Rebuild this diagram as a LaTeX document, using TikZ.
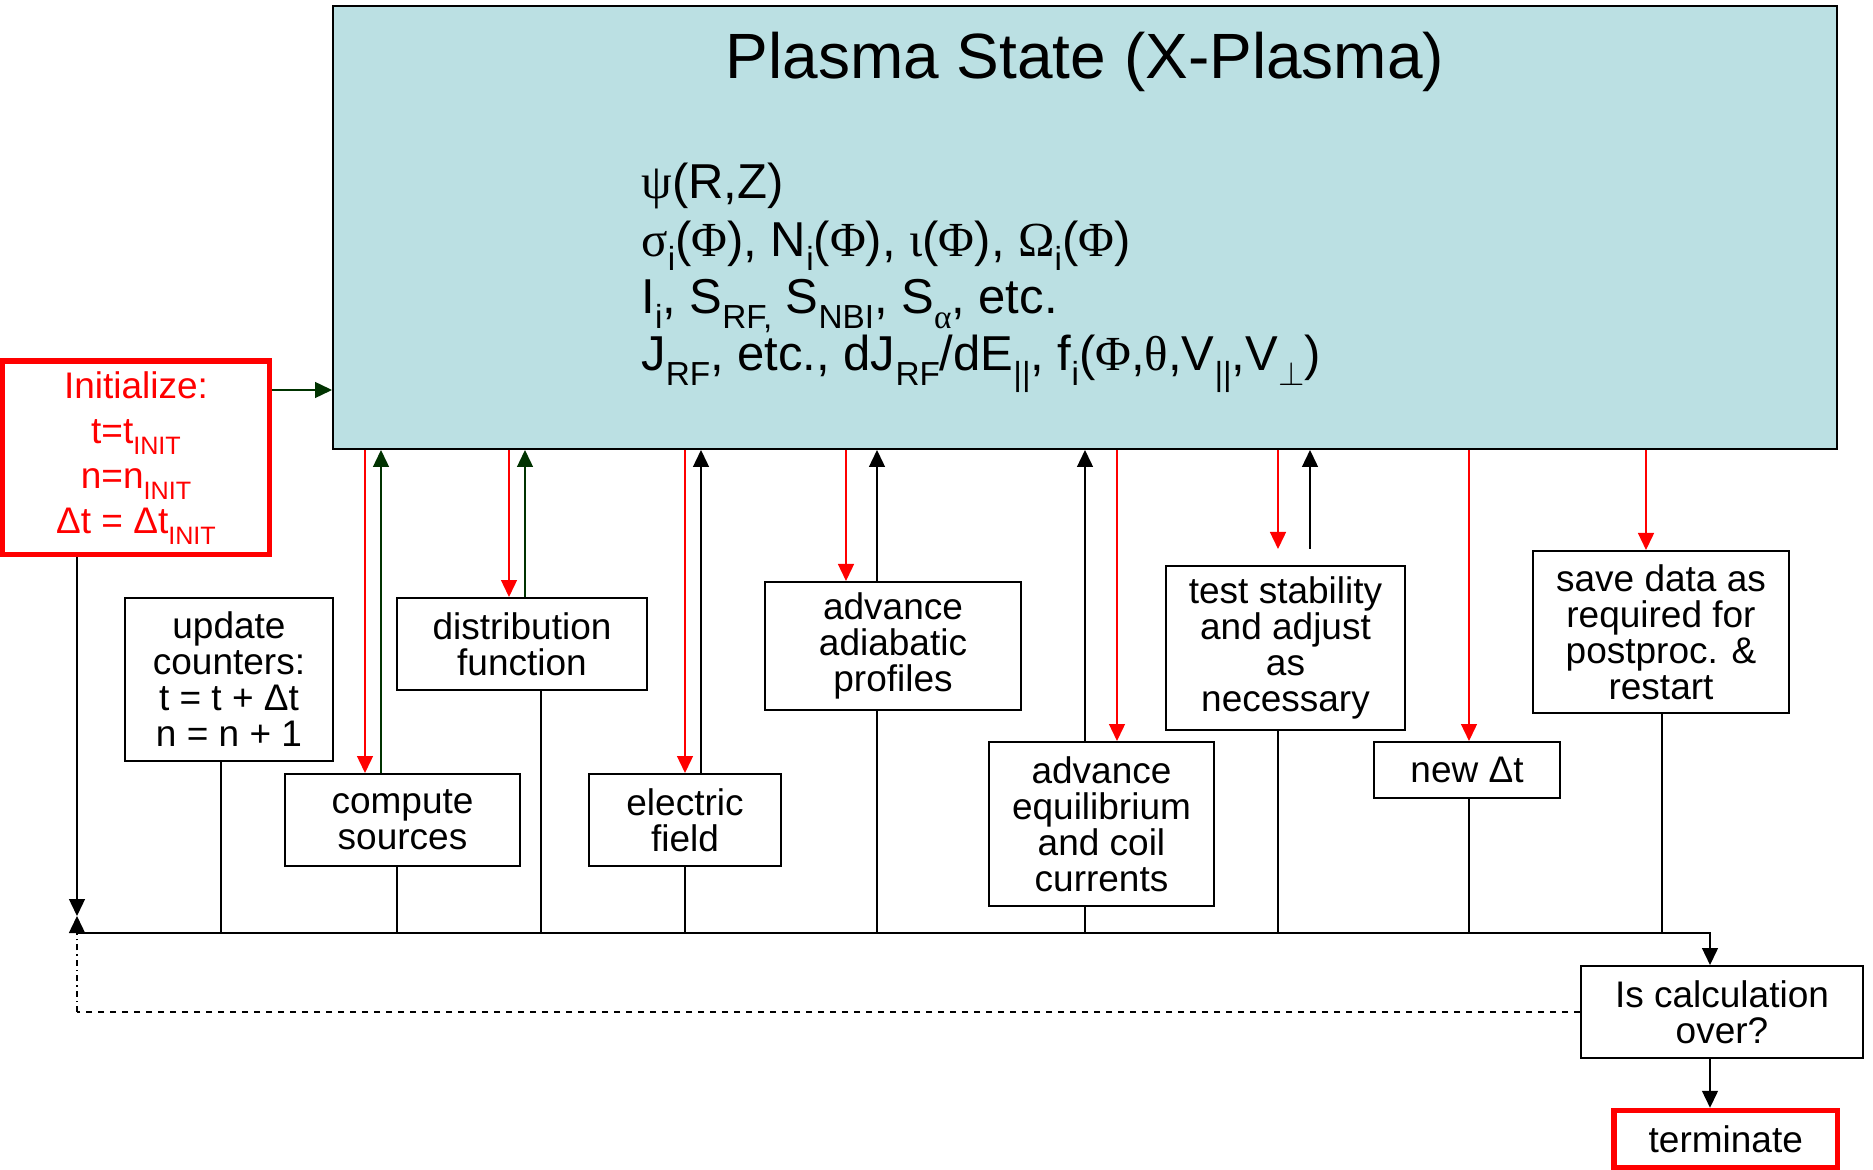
\documentclass[tikz,border=0pt]{standalone}
\usepackage{fontspec,graphicx}
\setmainfont{Liberation Sans}
\newfontfamily\grk{Liberation Serif}
\usetikzlibrary{arrows.meta}
\definecolor{psbg}{HTML}{BBE0E3}
\definecolor{dkg}{HTML}{003300}
\newcommand{\lw}[1]{\raisebox{-0.3em}{\scalebox{0.68}{#1}}}
\newcommand{\bx}{\fontsize{18.5pt}{18pt}\selectfont}
\newcommand{\ini}{\fontsize{18.5pt}{22.5pt}\selectfont}
\newcommand{\pv}{\fontsize{24.5pt}{28.7pt}\selectfont\lineskiplimit=-100pt}
\tikzset{
  box/.style={draw,line width=1pt,fill=white,align=center,font=\bx,inner sep=0pt},
  rbox/.style={box,draw=red,line width=2.75pt,text=red},
  state/.style={draw,line width=1pt,fill=psbg,inner sep=0pt},
  ar/.style={-{Triangle[length=8.5pt,width=8pt]},line width=0.7pt},
  rar/.style={ar,red},
  gar/.style={ar,dkg},
  kar/.style={ar,black},
  ln/.style={line width=0.8pt},
}

\begin{document}
\begin{tikzpicture}[x=0.5pt,y=-0.5pt]
\useasboundingbox (0,0) rectangle (1873,1170);
% plasma state
\node[state,minimum width=752pt,minimum height=221.5pt] (ps) at (1085,227.5) {};
\node[font=\fontsize{32pt}{36pt}\selectfont] (pst) at (1085,62) {Plasma State (X-Plasma)};
\node[anchor=west,align=left,inner sep=0pt,font=\pv] (psv) at (641,278)
  {{\grk ψ}(R,Z)\\
   {\grk σ}\lw{i}({\grk Φ}), N\lw{i}({\grk Φ}), {\grk ι}({\grk Φ}), {\grk Ω}\lw{i}({\grk Φ})\\
   I\lw{i}, S\lw{RF,} S\lw{NBI}, S\lw{\grk α}, etc.\\
   J\lw{RF}, etc., dJ\lw{RF}/dE\lw{||}, f\lw{i}({\grk Φ},{\grk θ},V\lw{||},V\lw{$\perp$})};
% init and end
\node[rbox,font=\ini,minimum width=133.5pt,minimum height=96.75pt] (init) at (136,458)
  {Initialize:\\t=t\lw{INIT}\\n=n\lw{INIT}\\Δt = Δt\lw{INIT}};
\node[box,minimum width=141pt,minimum height=46pt] (ic) at (1722,1012) {Is calculation\\over?};
\node[rbox,text=black,minimum width=111.75pt,minimum height=28.75pt] (tm) at (1725.75,1139.25) {terminate};
% modules
\node[box,minimum width=104pt,minimum height=81.5pt] (uc) at (229,679.5) {update\\counters:\\t = t + Δt\\n = n + 1};
\node[box,minimum width=117.5pt,minimum height=46pt] (cs) at (402.5,820) {compute\\sources};
\node[box,minimum width=125pt,minimum height=46pt] (df) at (522,644) {distribution\\function};
\node[box,minimum width=96pt,minimum height=46pt] (ef) at (685,820) {electric\\field};
\node[box,minimum width=128pt,minimum height=64pt] (aa) at (893,646) {advance\\adiabatic\\profiles};
\node[box,minimum width=112.5pt,minimum height=82pt] (eq) at (1101.5,824) {advance\\equilibrium\\and coil\\currents};
\node[box,minimum width=119.5pt,minimum height=82pt] (ts) at (1285.5,648) {test stability\\and adjust\\as\\necessary};
\node[box,minimum width=93pt,minimum height=28pt] (nd) at (1467,770) {new Δt};
\node[box,minimum width=128pt,minimum height=81pt] (sd) at (1661,632) {save data as\\required for\\postproc. \&\\restart};
% helper points
\coordinate (ia) at (0,390);
\coordinate (tsg) at (1290,549);
\coordinate (bus) at (77,933);
\coordinate (bend) at (1710,933);
\coordinate (meet) at (77,916);
\coordinate (rc) at (77,1012);
% state in/out
\draw[gar] (ia -| init.east) -- (ia -| ps.west);
\foreach \x/\b in {365/cs,509/df,685/ef,846/aa,1117/eq,1469/nd,1646/sd}
  \draw[rar] (\x,0 |- ps.south) -- (\x,0 |- \b.north);
\foreach \x/\b in {381/cs,525/df}
  \draw[gar] (\x,0 |- \b.north) -- (\x,0 |- ps.south);
\foreach \x/\b in {701/ef,877/aa,1085/eq}
  \draw[kar] (\x,0 |- \b.north) -- (\x,0 |- ps.south);
\draw[rar] (1278,0 |- ps.south) -- (1278,0 |- tsg);
\draw[kar] (1310,0 |- tsg) -- (1310,0 |- ps.south);
% loop bus
\foreach \x/\b in {221/uc,397/cs,541/df,685/ef,877/aa,1085/eq,1278/ts,1469/nd,1662/sd}
  \draw[ln] (\x,0 |- \b.south) -- (\x,0 |- bus);
\draw[kar] (bus) -- (bend) -- (bend |- ic.north);
\draw[kar] (bend |- ic.south) -- (bend |- tm.north);
\draw[kar] (77,0 |- init.south) -- (meet);
\draw[ln,dashed] (ic.west) -- (ic.west -| rc);
\draw[kar,dash dot] (ic.west -| rc) -- (meet);
\end{tikzpicture}
\end{document}
